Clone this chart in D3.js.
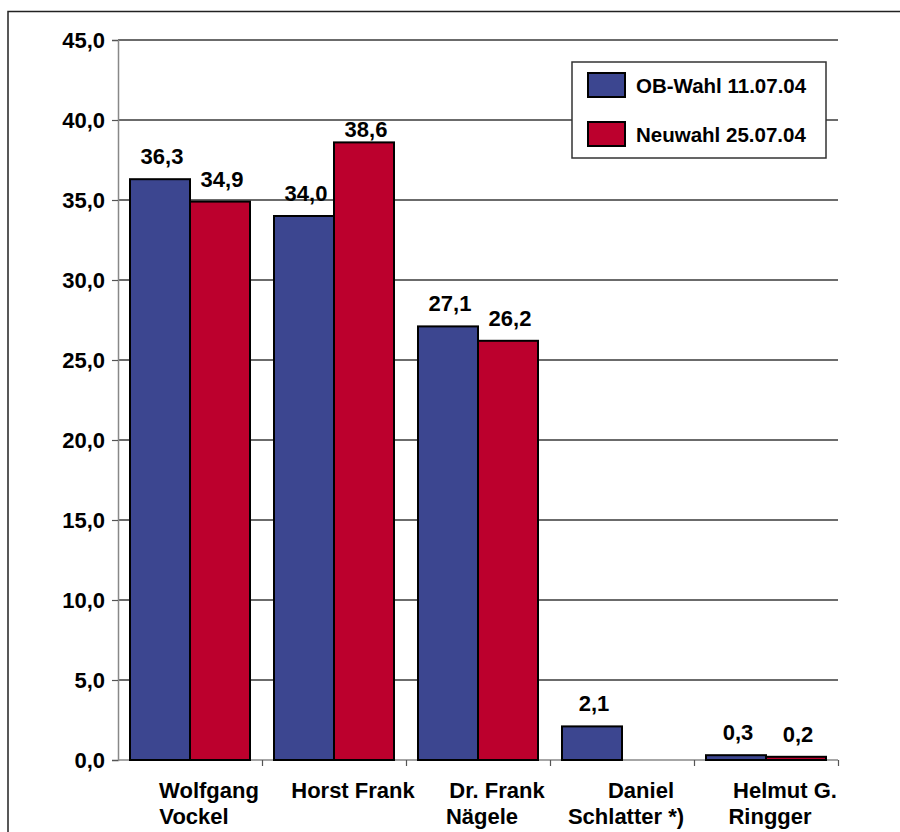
<!DOCTYPE html>
<html><head><meta charset="utf-8">
<script src="https://cdn.jsdelivr.net/npm/d3@7"></script>
<style>
html,body{margin:0;padding:0;background:#fff;}
svg text{font-family:"Liberation Sans",Arial,sans-serif;font-weight:bold;fill:#000;}
</style></head>
<body>
<svg id="chart" width="900" height="832"></svg>
<script>
const categories = [["Wolfgang","Vockel"],["Horst Frank"],["Dr. Frank","Nägele"],["Daniel","Schlatter *)"],["Helmut G.","Ringger"]];
const seriesNames = ["OB-Wahl 11.07.04","Neuwahl 25.07.04"];
const obWahl = [36.3, 34.0, 27.1, 2.1, 0.3];
const neuwahl = [34.9, 38.6, 26.2, null, 0.2];
const yTicks = [0,5,10,15,20,25,30,35,40,45];
const colors = ["#3C4690","#BC002D"];

const locale = d3.formatLocale({decimal:",",thousands:".",grouping:[3],currency:["","€"]});
const fmt = locale.format(".1f");

const svg = d3.select("#chart");
const W = 900, H = 832;
const m = {left:118, right:62, top:40, bottom:72};
const x0 = d3.scaleBand().domain(d3.range(categories.length)).range([m.left, W-m.right]).paddingInner(0).paddingOuter(0);
const x1 = d3.scaleBand().domain([0,1]).range([0, x0.bandwidth()]).paddingInner(0).paddingOuter(0.2);
const y = d3.scaleLinear().domain([0,45]).range([H-m.bottom, m.top]);

// outer frame
svg.append("rect").attr("x",8).attr("y",11.5).attr("width",W+20).attr("height",H+20)
  .attr("fill","none").attr("stroke","#222").attr("stroke-width",1.5);

// gridlines
svg.append("g").selectAll("line").data(yTicks.filter(d=>d>0)).join("line")
  .attr("x1",m.left).attr("x2",W-m.right).attr("y1",d=>y(d)).attr("y2",d=>y(d))
  .attr("stroke","#3a3a3a").attr("stroke-width",1.3);

// y axis
const yAxis = d3.axisLeft(y).tickValues(yTicks).tickFormat(fmt).tickSize(6).tickPadding(7);
const gy = svg.append("g").attr("transform",`translate(${m.left},0)`).call(yAxis);
gy.attr("font-family",null).attr("font-size",null);
gy.select(".domain").attr("stroke","#888").attr("stroke-width",1.5);
gy.selectAll(".tick line").attr("stroke","#555").attr("stroke-width",1.2);
gy.selectAll(".tick text").style("font-size","22px").attr("dy","0.36em");

// x axis
const xb = d3.scaleLinear().domain([0,categories.length]).range([m.left, W-m.right]);
const gx = svg.append("g").attr("transform",`translate(0,${y(0)})`)
  .call(d3.axisBottom(xb).tickValues(d3.range(1,categories.length+1)).tickSize(6).tickFormat(""));
gx.select(".domain").attr("stroke","#888").attr("stroke-width",1.5).attr("d",`M${m.left},0H${W-m.right}`);
gx.selectAll(".tick line").attr("stroke","#555").attr("stroke-width",1.2);

// category labels
const catG = svg.append("g");
categories.forEach((lines,i)=>{
  const cx = x0(i) + x0.bandwidth()/2;
  lines.forEach((t,j)=>{
    catG.append("text").attr("x", cx + (j===0?19:4)).attr("y", y(0)+38+j*26)
      .attr("text-anchor","middle").style("font-size","22px").text(t);
  });
});

// bars
const seriesData = [obWahl, neuwahl];
seriesData.forEach((vals,s)=>{
  const g = svg.append("g");
  const data = vals.map((v,i)=>({i,v})).filter(d=>d.v!=null);
  g.selectAll("rect").data(data).join("rect")
    .attr("x",d=>x0(d.i)+x1(s)).attr("width",x1.bandwidth())
    .attr("y",d=>y(d.v)).attr("height",d=>y(0)-y(d.v))
    .attr("fill",colors[s]).attr("stroke","#000").attr("stroke-width",2);
  g.selectAll("text").data(data).join("text")
    .attr("x",d=>x0(d.i)+x1(s)+x1.bandwidth()/2+2)
    .attr("y",d=>Math.max(y(d.v)-15, y(40)+17))
    .attr("text-anchor","middle").style("font-size","22px").text(d=>fmt(d.v));
});

// legend
const lg = svg.append("g");
lg.append("rect").attr("x",572).attr("y",62).attr("width",254).attr("height",96)
  .attr("fill","#fff").attr("stroke","#333").attr("stroke-width",1.5);
seriesNames.forEach((n,i)=>{
  lg.append("rect").attr("x",588).attr("y",73+i*49).attr("width",37).attr("height",24)
    .attr("fill",colors[i]).attr("stroke","#000").attr("stroke-width",2);
  lg.append("text").attr("x",636).attr("y",93+i*49).style("font-size","20.5px").text(n);
});
</script>
</body></html>
